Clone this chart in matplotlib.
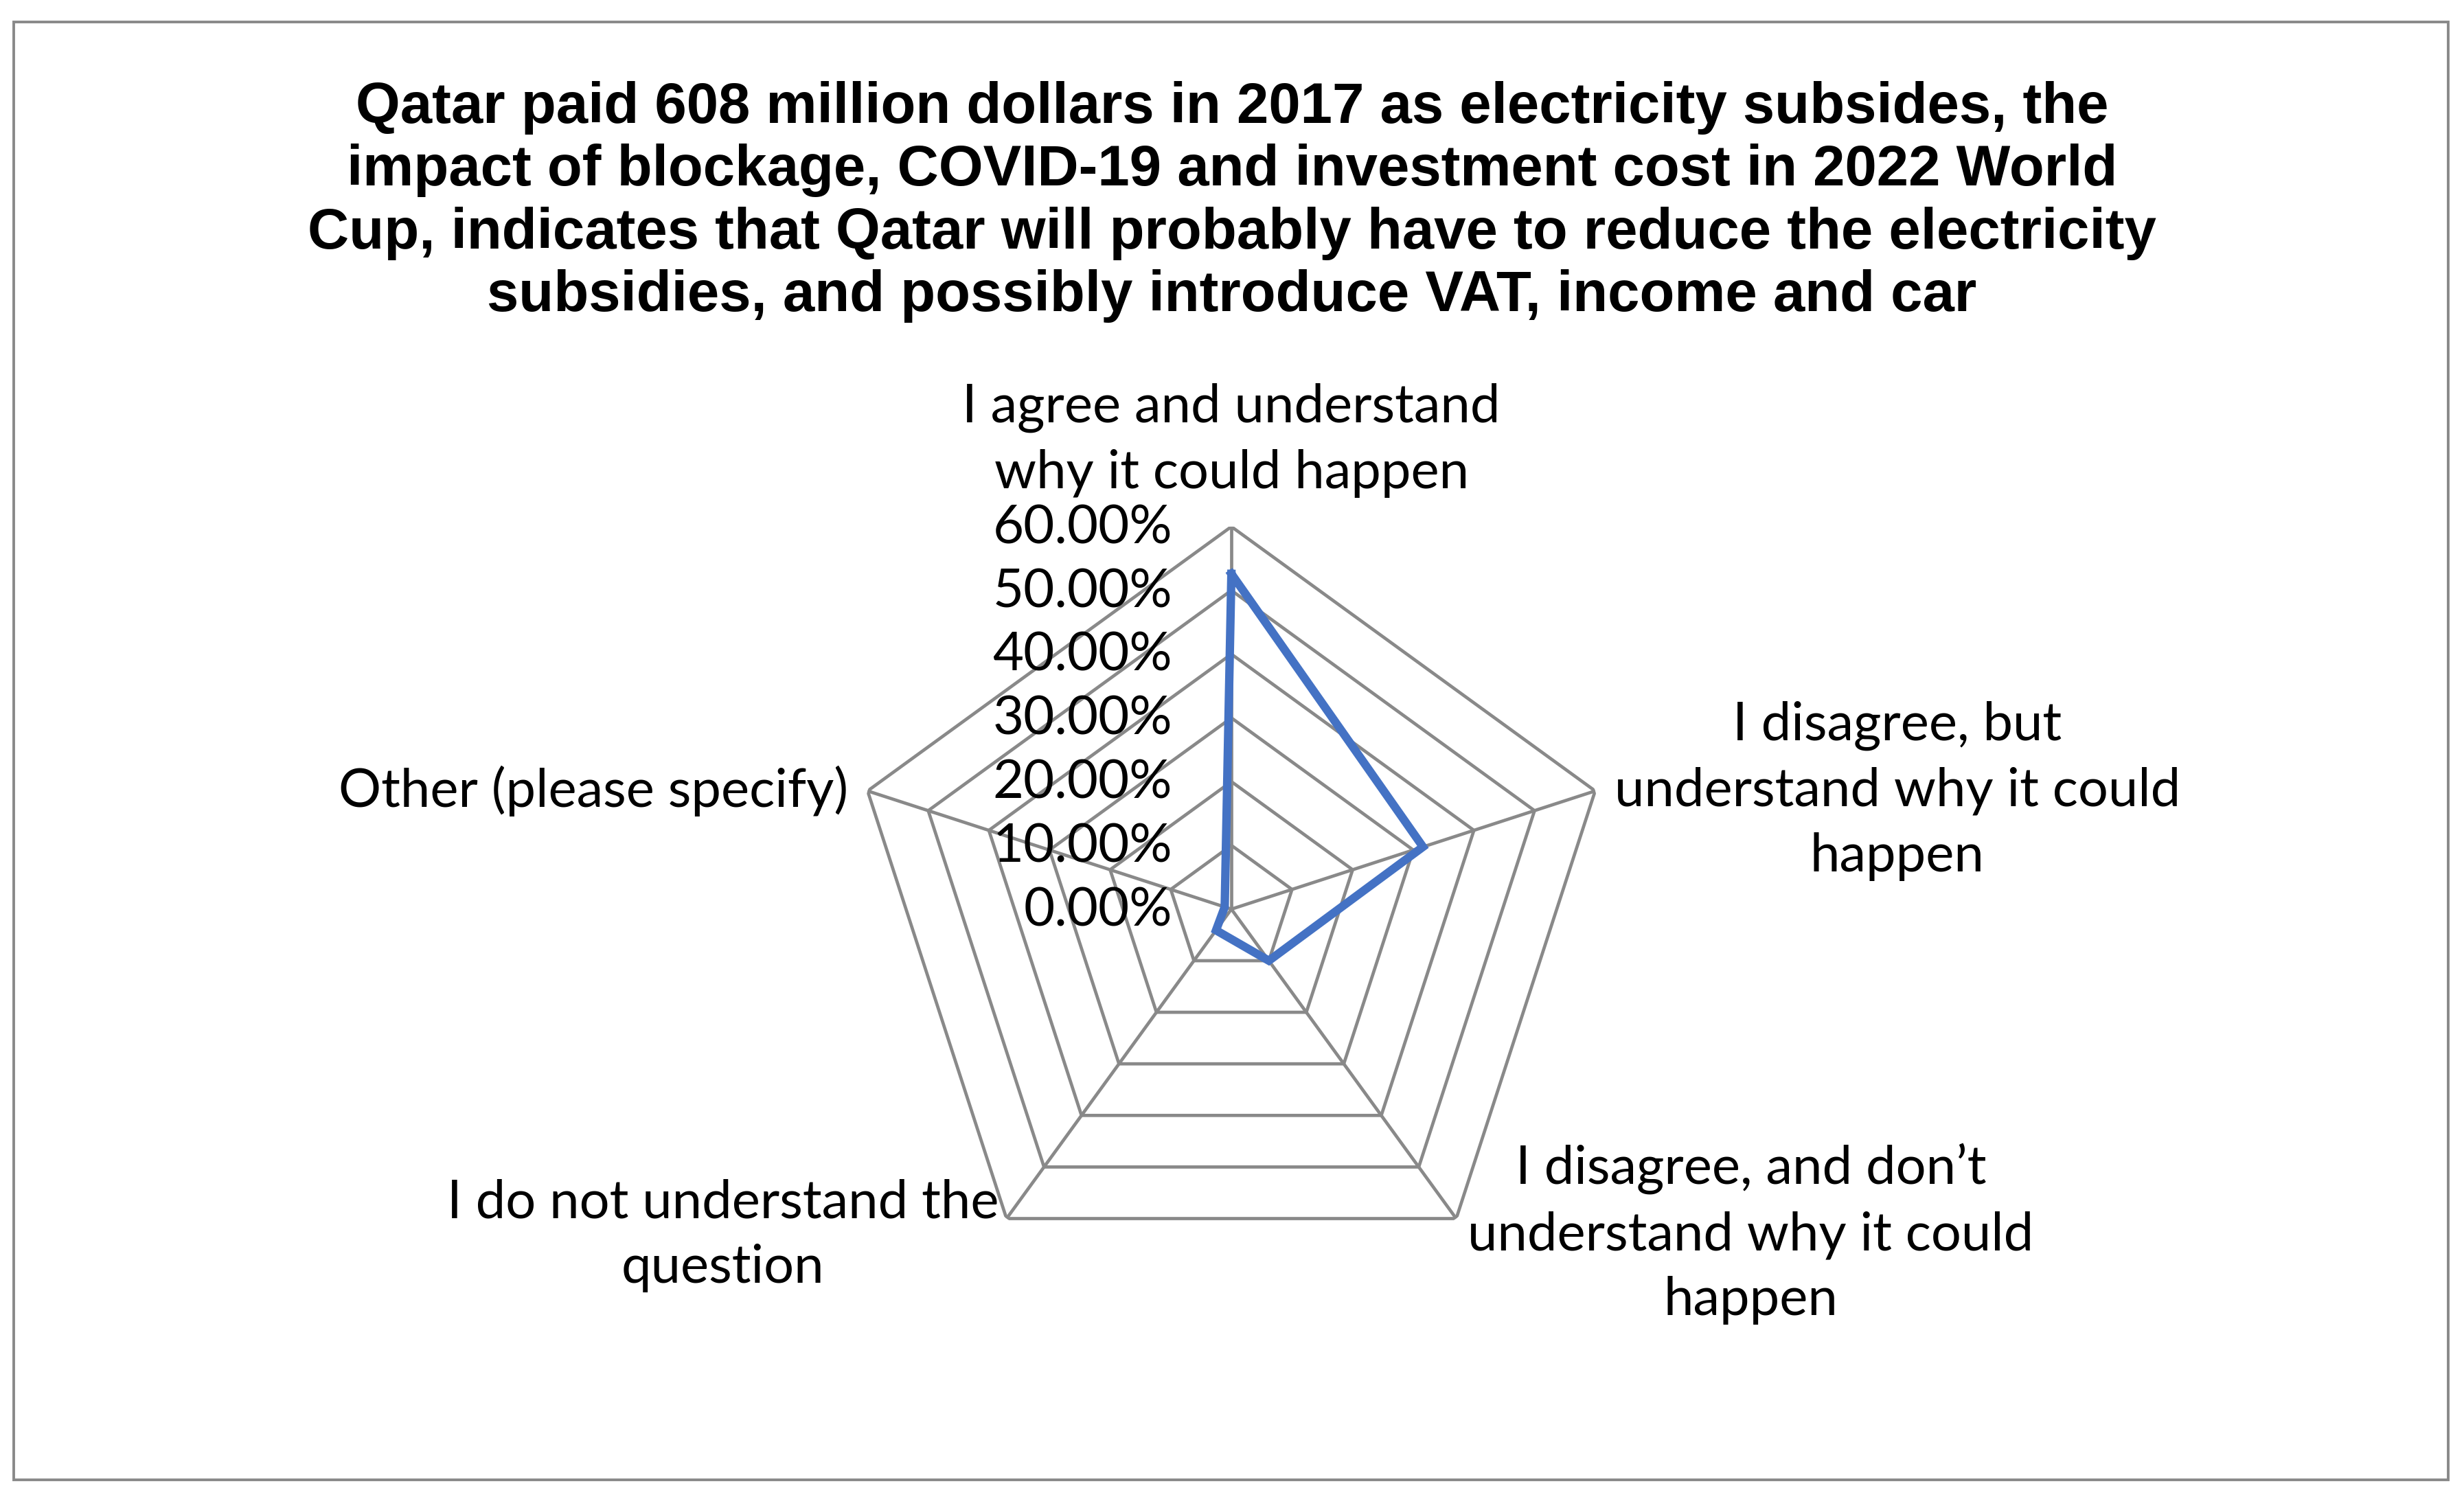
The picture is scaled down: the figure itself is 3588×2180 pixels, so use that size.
import matplotlib.pyplot as plt
import numpy as np
from matplotlib.patches import Rectangle

# data
categories = [
    "I agree and understand\nwhy it could happen",
    "I disagree, but\nunderstand why it could\nhappen",
    "I disagree, and don\u2019t\nunderstand why it could\nhappen",
    "I do not understand the\nquestion",
    "Other (please specify)",
]
values = [0.526, 0.316, 0.100, 0.041, 0.011]
ring_levels = [0.0, 0.1, 0.2, 0.3, 0.4, 0.5, 0.6]
ring_labels = ["0.00%", "10.00%", "20.00%", "30.00%", "40.00%", "50.00%", "60.00%"]
title = ("Qatar paid 608 million dollars in 2017 as electricity subsides, the\n"
         "impact of blockage, COVID-19 and investment cost in 2022 World\n"
         "Cup, indicates that Qatar will probably have to reduce the electricity\n"
         "subsidies, and possibly introduce VAT, income and car")

GRID = "#898989"
LINE = "#4472C4"
LABEL_FONT = "Lato"

fig = plt.figure(figsize=(17.94, 10.9), dpi=200)

# outer chart frame
fig.patches.append(Rectangle((0.0056, 0.0115), 0.988, 0.974, transform=fig.transFigure,
                             fill=False, edgecolor=GRID, linewidth=1.4))

fig.text(0.5, 0.946, title, ha="center", va="top", fontsize=30, fontweight="bold",
         family="Liberation Sans", linespacing=1.22)

ax = fig.add_axes([0.3445, 0.1372, 0.3105, 0.511], projection="polar")
ax.set_theta_offset(np.pi / 2)
ax.set_theta_direction(-1)
ax.set_ylim(0, max(ring_levels))
ax.grid(False)
ax.spines["polar"].set_visible(False)
ax.set_xticks([])
ax.set_yticks([])
ax.patch.set_visible(False)

n = len(categories)
angles = np.linspace(0, 2 * np.pi, n, endpoint=False)
closed = np.append(angles, angles[0])

# pentagon rings and spokes
for r in ring_levels[1:]:
    ax.plot(closed, [r] * (n + 1), color=GRID, lw=1.7, zorder=1)
for a in angles:
    ax.plot([a, a], [0, max(ring_levels)], color=GRID, lw=1.7, zorder=1)

ax.plot(closed, np.append(values, values[0]), color=LINE, lw=4.4, zorder=3,
        solid_joinstyle="miter")

# radial value labels along the top spoke
top = max(ring_levels)
for r, lab in zip(ring_levels, ring_labels):
    ax.annotate(lab, xy=(0, r), xytext=(-31, -1),
                textcoords="offset points", ha="right", va="center",
                fontsize=28, family=LABEL_FONT, annotation_clip=False)

# category labels
offsets = [(0, 15), (10, 0), (6, -8), (-4, -9), (-10, 0)]
aligns = [("center", "bottom"), ("left", "center"), ("left", "center"),
          ("right", "center"), ("right", "center")]
for a, cat, off, (ha, va) in zip(angles, categories, offsets, aligns):
    ax.annotate(cat, xy=(a, top), xytext=off, textcoords="offset points",
                ha=ha, va=va, multialignment="center", fontsize=28,
                family=LABEL_FONT, linespacing=1.42, annotation_clip=False)

fig.savefig("out.png", dpi=200)
